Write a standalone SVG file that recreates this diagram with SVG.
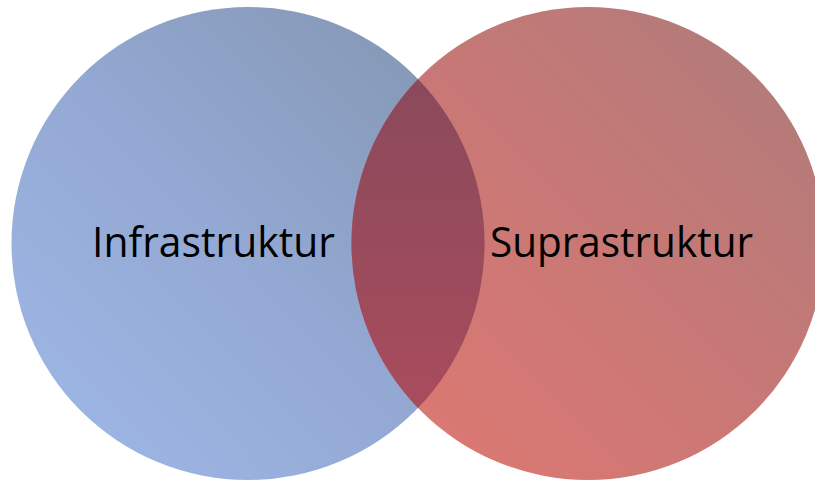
<svg xmlns="http://www.w3.org/2000/svg" width="815" height="480" viewBox="0 0 815 480">
  <defs>
    <linearGradient id="gBlue" x1="0.15" y1="0.85" x2="0.85" y2="0.15">
      <stop offset="0" stop-color="#9cb4e2"/>
      <stop offset="0.5" stop-color="#93a8d2"/>
      <stop offset="1" stop-color="#879ab9"/>
    </linearGradient>
    <linearGradient id="gRed" x1="0.15" y1="0.85" x2="0.85" y2="0.15">
      <stop offset="0" stop-color="#da7873"/>
      <stop offset="0.5" stop-color="#c97876"/>
      <stop offset="1" stop-color="#b57b79"/>
    </linearGradient>
    <linearGradient id="gMix" x1="0" y1="0" x2="0" y2="1">
      <stop offset="0" stop-color="#8a4a5b"/>
      <stop offset="1" stop-color="#a84c5d"/>
    </linearGradient>
  </defs>
  <style>
    .lbl { font-family: "Open Sans", "Liberation Sans", sans-serif; font-size: 42px; fill: #000000; }
  </style>
  <rect width="815" height="480" fill="#ffffff"/>
  <g id="infrastruktur">
    <circle cx="248" cy="243.5" r="236.5" fill="url(#gBlue)"/>
  </g>
  <g id="suprastruktur">
    <circle cx="588" cy="243.5" r="236.5" fill="url(#gRed)"/>
  </g>
  <g id="overlap">
    <path d="M418 79 A236.5 236.5 0 0 1 418 408 A236.5 236.5 0 0 1 418 79 Z" fill="url(#gMix)"/>
  </g>
  <g id="labels">
    <text class="lbl" x="92" y="257" textLength="243" lengthAdjust="spacingAndGlyphs">Infrastruktur</text>
    <text class="lbl" x="490" y="257" textLength="263" lengthAdjust="spacingAndGlyphs">Suprastruktur</text>
  </g>
  <g id="connectors"/>
</svg>
